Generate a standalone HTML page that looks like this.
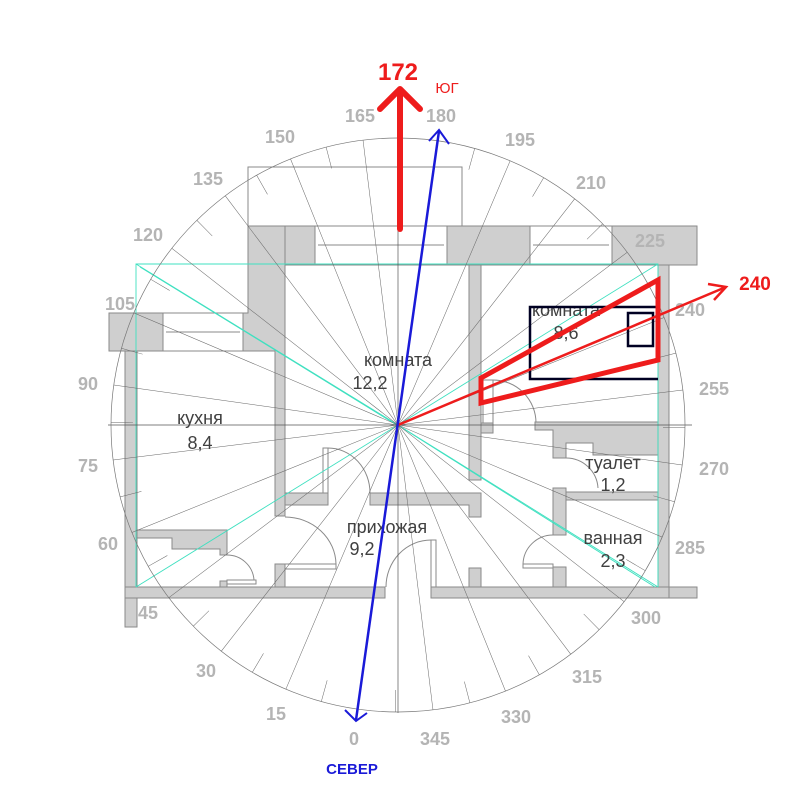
<!DOCTYPE html>
<html><head><meta charset="utf-8"><style>
html,body{margin:0;padding:0;background:#fff}
svg{display:block}
.w{fill:#cfcfcf;stroke:#8a8a8a;stroke-width:1}
.o{fill:none;stroke:#8a8a8a;stroke-width:1}
.t{fill:none;stroke:#666;stroke-width:0.5}
.lb{font-family:"Liberation Sans",sans-serif;font-size:18px;fill:#b4b4b4;font-weight:bold;text-anchor:middle}
.rm{font-family:"Liberation Sans","Noto Sans CJK SC",sans-serif;font-size:18px;fill:#404040;text-anchor:middle}
</style></head><body>
<svg width="801" height="800" viewBox="0 0 801 800" xmlns="http://www.w3.org/2000/svg">
<rect width="801" height="800" fill="#fff"/>
<rect x="248" y="167" width="214" height="59" class="o"/>
<rect x="248" y="226" width="67" height="39" class="w"/>
<rect x="315" y="226" width="132" height="39" fill="#fff" class="o"/>
<line x1="318" y1="245" x2="444" y2="245" class="o"/>
<rect x="447" y="226" width="83" height="39" class="w"/>
<rect x="530" y="226" width="82" height="39" fill="#fff" class="o"/>
<line x1="533" y1="245" x2="609" y2="245" class="o"/>
<rect x="612" y="226" width="85" height="39" class="w"/>
<path d="M248 226 H285 V516 H275 V351 H243 V313 H248 Z" class="w"/>
<rect x="109" y="313" width="54" height="38" class="w"/>
<rect x="163" y="313" width="80" height="38" fill="#fff" class="o"/>
<line x1="166" y1="332" x2="240" y2="332" class="o"/>
<rect x="125" y="351" width="12" height="276" class="w"/>
<rect x="125" y="587" width="260" height="11" class="w"/>
<rect x="431" y="587" width="266" height="11" class="w"/>
<path d="M137 530 H227 V555 H220 V549 H172 V538 H137 Z" class="w"/>
<rect x="220" y="581" width="7" height="6" class="w"/>
<rect x="227" y="580" width="29" height="4" fill="#fff" class="o"/>
<path d="M227 555 A27 27 0 0 1 254 580" class="o"/>
<rect x="285" y="493" width="43" height="12" class="w"/>
<path d="M370 493 H481 V517 H469 V505 H370 Z" class="w"/>
<rect x="275" y="564" width="10" height="23" class="w"/>
<rect x="323" y="448" width="5" height="45" fill="#fff" class="o"/>
<path d="M328 448 A42 45 0 0 1 370 493" class="o"/>
<rect x="285" y="564" width="51" height="5" fill="#fff" class="o"/>
<path d="M285 517 A51 48 0 0 1 336 564" class="o"/>
<rect x="431" y="540" width="5" height="47" fill="#fff" class="o"/>
<path d="M386 587 A45 47 0 0 1 431 540" class="o"/>
<rect x="469" y="568" width="12" height="19" class="w"/>
<rect x="469" y="265" width="12" height="215" class="w"/>
<rect x="481" y="423" width="12" height="10" class="w"/>
<rect x="483" y="380" width="10" height="43" fill="#fff" class="o"/>
<path d="M493 380 A43 43 0 0 1 536 423" class="o"/>
<rect x="658" y="265" width="11" height="322" class="w"/>
<rect x="669" y="587" width="28" height="11" class="w"/>
<path d="M535 422 H658 V455 H593 V443 H566 V458 H553 V443 H553 V430 H535 Z" class="w"/>
<rect x="553" y="492" width="105" height="8" class="w"/>
<rect x="553" y="488" width="13" height="47" class="w"/>
<rect x="553" y="567" width="13" height="20" class="w"/>
<path d="M566 458 A32 32 0 0 1 598 488" class="o"/>
<rect x="523" y="564" width="30" height="4" fill="#fff" class="o"/>
<path d="M523 564 A30 30 0 0 1 553 535" class="o"/>
<g stroke="#3fe0c0" stroke-width="0.9" fill="none">
<path d="M136 587 V264 H658 V587"/>
<line x1="136" y1="264" x2="398" y2="425"/>
<line x1="140" y1="267" x2="400" y2="427"/>
<line x1="658" y1="264" x2="398" y2="425"/>
<line x1="136" y1="587" x2="398" y2="425"/>
<line x1="658" y1="587" x2="398" y2="425"/>
<line x1="655" y1="587" x2="396" y2="424"/>
</g>
<line x1="108" y1="425" x2="692" y2="425" stroke="#555" stroke-width="0.7"/>
<line x1="398" y1="138" x2="398" y2="713" stroke="#555" stroke-width="0.7"/>
<circle cx="398" cy="425" r="287" fill="none" stroke="#777" stroke-width="0.7"/>
<g class="t">
<line x1="398" y1="138" x2="398" y2="712" transform="rotate(8 398 425)"/>
<line x1="398" y1="138" x2="398" y2="712" transform="rotate(23 398 425)"/>
<line x1="398" y1="138" x2="398" y2="712" transform="rotate(38 398 425)"/>
<line x1="398" y1="138" x2="398" y2="712" transform="rotate(53 398 425)"/>
<line x1="398" y1="138" x2="398" y2="712" transform="rotate(68 398 425)"/>
<line x1="398" y1="138" x2="398" y2="712" transform="rotate(83 398 425)"/>
<line x1="398" y1="138" x2="398" y2="712" transform="rotate(98 398 425)"/>
<line x1="398" y1="138" x2="398" y2="712" transform="rotate(113 398 425)"/>
<line x1="398" y1="138" x2="398" y2="712" transform="rotate(128 398 425)"/>
<line x1="398" y1="138" x2="398" y2="712" transform="rotate(143 398 425)"/>
<line x1="398" y1="138" x2="398" y2="712" transform="rotate(158 398 425)"/>
<line x1="398" y1="138" x2="398" y2="712" transform="rotate(173 398 425)"/>
</g>
<g class="t">
<path d="M398 690 V712 M398 160 V138" transform="rotate(15.5 398 425)"/>
<path d="M398 690 V712 M398 160 V138" transform="rotate(30.5 398 425)"/>
<path d="M398 690 V712 M398 160 V138" transform="rotate(45.5 398 425)"/>
<path d="M398 690 V712 M398 160 V138" transform="rotate(60.5 398 425)"/>
<path d="M398 690 V712 M398 160 V138" transform="rotate(75.5 398 425)"/>
<path d="M398 690 V712 M398 160 V138" transform="rotate(90.5 398 425)"/>
<path d="M398 690 V712 M398 160 V138" transform="rotate(105.5 398 425)"/>
<path d="M398 690 V712 M398 160 V138" transform="rotate(120.5 398 425)"/>
<path d="M398 690 V712 M398 160 V138" transform="rotate(135.5 398 425)"/>
<path d="M398 690 V712 M398 160 V138" transform="rotate(150.5 398 425)"/>
<path d="M398 690 V712 M398 160 V138" transform="rotate(165.5 398 425)"/>
<path d="M398 690 V712 M398 160 V138" transform="rotate(180.5 398 425)"/>
</g>
<g class="lb">
<text x="360" y="122">165</text><text x="441" y="122">180</text>
<text x="280" y="143">150</text><text x="520" y="146">195</text>
<text x="208" y="185">135</text><text x="591" y="189">210</text>
<text x="148" y="241">120</text><text x="650" y="247">225</text>
<text x="120" y="310">105</text><text x="690" y="316">240</text>
<text x="88" y="390">90</text><text x="714" y="395">255</text>
<text x="88" y="472">75</text><text x="714" y="475">270</text>
<text x="108" y="550">60</text><text x="690" y="554">285</text>
<text x="148" y="619">45</text><text x="646" y="624">300</text>
<text x="206" y="677">30</text><text x="587" y="683">315</text>
<text x="276" y="720">15</text><text x="516" y="723">330</text>
<text x="354" y="745">0</text><text x="435" y="745">345</text>
</g>
<g class="rm">
<text x="398" y="366">комната</text><text x="370" y="389">12,2</text>
<text x="200" y="424">кухня</text><text x="200" y="449">8,4</text>
<text x="387" y="533">прихожая</text><text x="362" y="555">9,2</text>
<text x="566" y="316">комната</text><text x="566" y="339">8,6</text>
<text x="613" y="469">туалет</text><text x="613" y="491">1,2</text>
<text x="613" y="544">ванная</text><text x="613" y="567">2,3</text>
</g>
<path d="M658 307 H530 V379 H658" fill="none" stroke="#000022" stroke-width="2.5"/>
<rect x="628" y="313" width="25" height="33" fill="none" stroke="#000022" stroke-width="2.5"/>
<polygon points="481,378 658,280 658,360 481,403" fill="none" stroke="#ee1c1c" stroke-width="5" stroke-linejoin="miter"/>
<line x1="398" y1="425" x2="726" y2="287" stroke="#ee1c1c" stroke-width="2.5"/>
<path d="M708 284 L726 287 L714 300" fill="none" stroke="#ee1c1c" stroke-width="2.5"/>
<line x1="400" y1="229" x2="400" y2="92" stroke="#ee1c1c" stroke-width="6" stroke-linecap="round"/>
<path d="M380 109 L400 89 L420 109" fill="none" stroke="#ee1c1c" stroke-width="6" stroke-linecap="round" stroke-linejoin="round"/>
<text x="398" y="80" font-family="Liberation Sans,sans-serif" font-size="24" font-weight="bold" fill="#ee1c1c" text-anchor="middle">172</text>
<text x="447" y="93" font-family="Liberation Sans,sans-serif" font-size="15" fill="#ee1c1c" text-anchor="middle">ЮГ</text>
<text x="755" y="290" font-family="Liberation Sans,sans-serif" font-size="19" font-weight="bold" fill="#ee1c1c" text-anchor="middle">240</text>
<line x1="439" y1="131" x2="356" y2="720" stroke="#1a1ad8" stroke-width="2.5"/>
<path d="M429 141 L439 130 L449 144" fill="none" stroke="#1a1ad8" stroke-width="2"/>
<path d="M345 710 L356 721 L367 713" fill="none" stroke="#1a1ad8" stroke-width="2"/>
<text x="352" y="774" font-family="Liberation Sans,sans-serif" font-size="15" font-weight="bold" fill="#1a1ad8" text-anchor="middle">СЕВЕР</text>
</svg>
</body></html>
